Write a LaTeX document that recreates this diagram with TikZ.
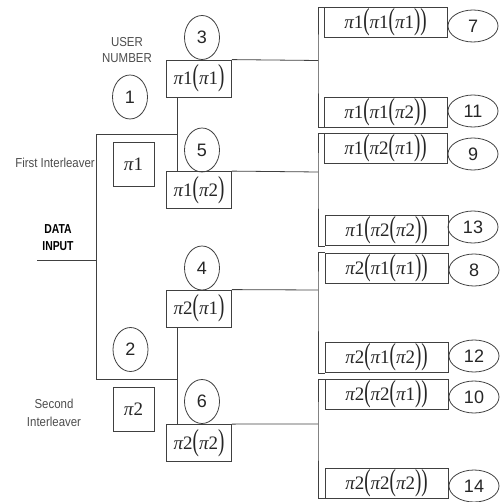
\documentclass[tikz,border=0pt]{standalone}
\usepackage{fontspec}
\usepackage{graphicx}
\setmainfont{Liberation Serif}
\newfontfamily\arialf{Liberation Sans}
\usetikzlibrary{shapes.geometric}
\newcommand\mypi[1]{{\itshape π}#1}
\newcommand\mylp{\raisebox{-1pt}{\scalebox{1}[1.6]{(}}}
\newcommand\myrp{\raisebox{-1pt}{\scalebox{1}[1.6]{)}}}
\newcommand\sq[1]{\scalebox{0.88}[1]{#1}}
\newcommand\sqb[1]{\scalebox{0.8}[1]{#1}}
\tikzset{
  ln/.style={draw=black!75, line width=0.8pt},
  mbox/.style={ln, rectangle, inner sep=0pt, minimum width=65pt, minimum height=37pt, text=black!85, font={\fontsize{19}{22}\selectfont}},
  pbox/.style={mbox, minimum width=41pt, minimum height=44pt},
  rbox/.style={mbox, minimum width=123pt, minimum height=30pt},
  ucirc/.style={ln, ellipse, inner sep=0pt, minimum width=35pt, minimum height=44pt, text=black!85, font={\arialf\fontsize{18}{20}\selectfont}},
  roval/.style={ucirc, minimum width=50pt, minimum height=32pt},
  lab/.style={align=center, inner sep=0pt, text=black!70, font={\arialf\fontsize{13}{16}\selectfont}},
  labb/.style={align=center, inner sep=0pt, text=black, font={\arialf\bfseries\fontsize{13}{17}\selectfont}}
}
\begin{document}
\begin{tikzpicture}[x=1pt,y=-1pt]
\useasboundingbox (0,0) rectangle (500,502);
% labels
\node[lab] (usr) at (127,50) {\sq{USER}\\\sq{NUMBER}};
\node[lab] (fi) at (55,163) {\sq{First Interleaver}};
\node[lab, font={\arialf\fontsize{13}{18}\selectfont}] (si) at (54,412.5) {\sq{Second}\\\sq{Interleaver}};
\node[labb] (di) at (58,238) {\sqb{DATA}\\\sqb{INPUT}};
% user circles
\node[ucirc] (c1) at (130,97) {1};
\node[ucirc] (c2) at (130.5,349.5) {2};
\node[ucirc] (c3) at (202,37.5) {3};
\node[ucirc] (c5) at (202,150) {5};
\node[ucirc] (c4) at (202,268) {4};
\node[ucirc] (c6) at (202,401.5) {6};
% interleaver boxes
\node[pbox] (p1) at (133.5,164) {\mypi1};
\node[pbox] (p2) at (133.5,409.5) {\mypi2};
% second stage boxes
\node[mbox] (b3) at (199,78.5) {\mypi1\mylp\mypi1\myrp};
\node[mbox] (b5) at (199,190) {\mypi1\mylp\mypi2\myrp};
\node[mbox] (b4) at (199,308.5) {\mypi2\mylp\mypi1\myrp};
\node[mbox] (b6) at (199,443) {\mypi2\mylp\mypi2\myrp};
% third stage boxes
\node[rbox] (r7)  at (385.5,22.5) {\mypi1\mylp\mypi1\mylp\mypi1\myrp\myrp};
\node[rbox] (r11) at (385.5,112) {\mypi1\mylp\mypi1\mylp\mypi2\myrp\myrp};
\node[rbox] (r9)  at (385.5,148.5) {\mypi1\mylp\mypi2\mylp\mypi1\myrp\myrp};
\node[rbox] (r13) at (386.5,230.5) {\mypi1\mylp\mypi2\mylp\mypi2\myrp\myrp};
\node[rbox] (r8)  at (386.5,268) {\mypi2\mylp\mypi1\mylp\mypi1\myrp\myrp};
\node[rbox] (r12) at (386.5,357.5) {\mypi2\mylp\mypi1\mylp\mypi2\myrp\myrp};
\node[rbox] (r10) at (386.5,394.5) {\mypi2\mylp\mypi2\mylp\mypi1\myrp\myrp};
\node[rbox] (r14) at (386.5,483) {\mypi2\mylp\mypi2\mylp\mypi2\myrp\myrp};
% output ovals
\node[roval] (o7)  at (473,26) {7};
\node[roval] (o11) at (473,111) {11};
\node[roval] (o9)  at (473,154) {9};
\node[roval] (o13) at (473,227) {13};
\node[roval] (o8)  at (474,270) {8};
\node[roval] (o12) at (474,356) {12};
\node[roval] (o10) at (474,397) {10};
\node[roval] (o14) at (474,486) {14};
% tree coordinates
\coordinate (din) at (37,260);
\coordinate (j1) at (96,134);
\coordinate (j2) at (96,379);
\coordinate (m1) at (177,134);
\coordinate (m2) at (177,379);
\coordinate (k1) at (318,60.5);
\coordinate (k2) at (318,172);
\coordinate (k3) at (318,290);
\coordinate (k4) at (318,424);
% connectors
\draw[ln] (din) -- (din -| j1);
\draw[ln] (m1) -- (j1) -- (j2) -- (m2);
\draw[ln] (b3.south -| m1) -- (b5.north -| m1);
\draw[ln] (b4.south -| m2) -- (b6.north -| m2);
\draw[ln] (b3.north east) -- (k1);
\draw[ln] (b5.north east) -- (k2);
\draw[ln] (b4.north east) -- (k3);
\draw[ln] (b6.north east) -- (k4);
\draw[ln] (r7.north west) -| (k1) |- (r11.south west);
\draw[ln] (r9.north west) -| (k2) |- (r13.south west);
\draw[ln] (r8.north west) -| (k3) |- (r12.south west);
\draw[ln] (r10.north west) -| (k4) |- (r14.south west);
\end{tikzpicture}
\end{document}
